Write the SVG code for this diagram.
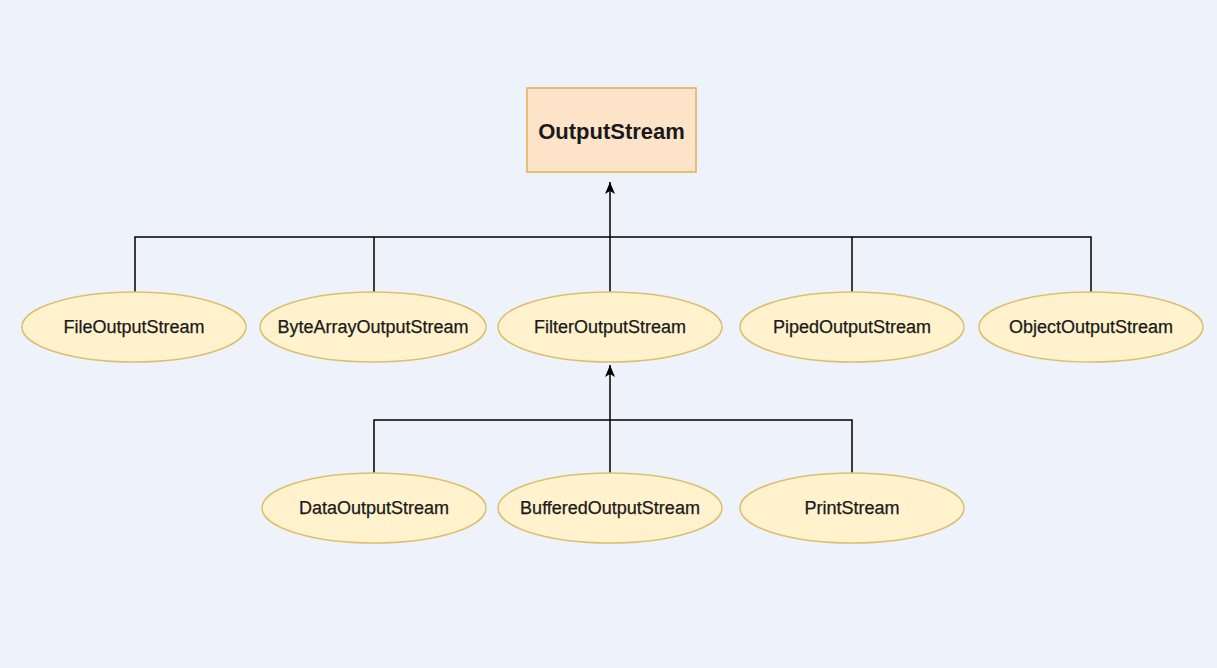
<svg xmlns="http://www.w3.org/2000/svg" width="1217" height="668" viewBox="0 0 1217 668">
<style>
.bg{fill:#eef2fa}
.root{fill:#fde3c8;stroke:#e0b050;stroke-width:1.5}
.cls{fill:#fff2cc;stroke:#dcc070;stroke-width:1.5}
.lbl{font-family:"Liberation Sans",Arial,sans-serif;font-size:18px;fill:#1a1a1a;stroke:#1a1a1a;stroke-width:0.25;text-anchor:middle;dominant-baseline:central}
.rlbl{font-family:"Liberation Sans",Arial,sans-serif;font-size:22px;font-weight:bold;fill:#1a1a1a;text-anchor:middle;dominant-baseline:central}
.edge{fill:none;stroke:#000;stroke-width:1.5}
</style>
<defs>
<marker id="arr" viewBox="0 0 10 12" refX="5" refY="0" markerWidth="10" markerHeight="12" markerUnits="userSpaceOnUse" orient="0">
<path d="M5,0 L10,12 L5,9 L0,12 Z" fill="#000"/>
</marker>
</defs>
<rect class="bg" width="1217" height="668"/>
<g id="connectors">
<path class="edge" d="M135,292 V237 H1091 V292"/>
<path class="edge" d="M374,292 V237"/>
<path class="edge" d="M852,292 V237"/>
<path class="edge" d="M610,292 V182" marker-end="url(#arr)"/>
<path class="edge" d="M374,473 V420 H852 V473"/>
<path class="edge" d="M610,473 V365" marker-end="url(#arr)"/>
</g>
<g id="OutputStream">
<rect class="root" x="527" y="88" width="169" height="84"/>
<text class="rlbl" x="611.5" y="131">OutputStream</text>
</g>
<g id="FileOutputStream">
<ellipse class="cls" cx="134" cy="327" rx="112" ry="35"/>
<text class="lbl" x="134" y="327">FileOutputStream</text>
</g>
<g id="ByteArrayOutputStream">
<ellipse class="cls" cx="373" cy="327" rx="113" ry="35"/>
<text class="lbl" x="373" y="327">ByteArrayOutputStream</text>
</g>
<g id="FilterOutputStream">
<ellipse class="cls" cx="610" cy="327" rx="112" ry="35"/>
<text class="lbl" x="610" y="327">FilterOutputStream</text>
</g>
<g id="PipedOutputStream">
<ellipse class="cls" cx="852" cy="327" rx="112" ry="35"/>
<text class="lbl" x="852" y="327">PipedOutputStream</text>
</g>
<g id="ObjectOutputStream">
<ellipse class="cls" cx="1091" cy="327" rx="112" ry="35"/>
<text class="lbl" x="1091" y="327">ObjectOutputStream</text>
</g>
<g id="DataOutputStream">
<ellipse class="cls" cx="374" cy="508" rx="112" ry="35"/>
<text class="lbl" x="374" y="508">DataOutputStream</text>
</g>
<g id="BufferedOutputStream">
<ellipse class="cls" cx="610" cy="508" rx="112" ry="35"/>
<text class="lbl" x="610" y="508">BufferedOutputStream</text>
</g>
<g id="PrintStream">
<ellipse class="cls" cx="852" cy="508" rx="112" ry="35"/>
<text class="lbl" x="852" y="508">PrintStream</text>
</g>
</svg>
